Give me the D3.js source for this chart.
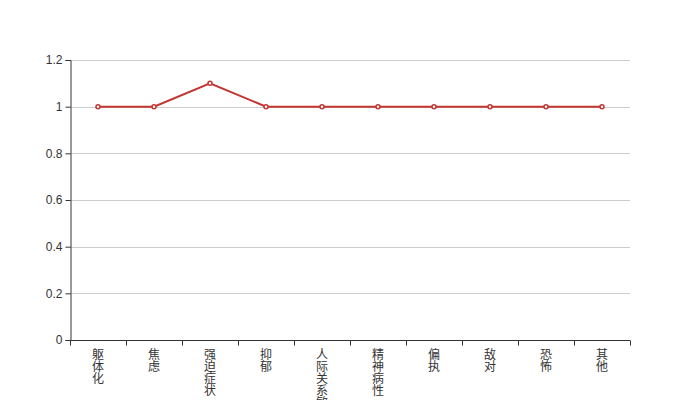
<!DOCTYPE html>
<html>
<head>
<meta charset="utf-8">
<script src="https://cdn.jsdelivr.net/npm/d3@7"></script>
<style>
  body { margin: 0; background: #fff; }
  svg { display: block; font-family: "Noto Sans CJK SC", "Noto Sans", sans-serif; }
</style>
</head>
<body>
<script>
// SCL-90 factor scores
var categories = ['躯体化', '焦虑', '强迫症状', '抑郁', '人际关系敏感', '精神病性', '偏执', '敌对', '恐怖', '其他'];
var scores     = [1, 1, 1.1, 1, 1, 1, 1, 1, 1, 1];
var yTicks     = [0, 0.2, 0.4, 0.6, 0.8, 1, 1.2];

var width = 700, height = 400;
var margin = {top: 60, right: 70, bottom: 60, left: 70};

var svg = d3.select('body').append('svg')
	.attr('width', width)
	.attr('height', height);

var x = d3.scaleBand()
	.domain(categories)
	.range([margin.left, width - margin.right]);

var y = d3.scaleLinear()
	.domain([0, 1.2])
	.range([height - margin.bottom, margin.top]);

// grid
svg.append('g')
	.selectAll('line')
	.data(yTicks.slice(1))
	.enter().append('line')
		.attr('x1', margin.left)
		.attr('x2', width - margin.right)
		.attr('y1', function(d) { return Math.round(y(d)) + 0.5; })
		.attr('y2', function(d) { return Math.round(y(d)) + 0.5; })
		.attr('stroke', '#ccc');

// y axis
var yAxis = svg.append('g')
	.attr('transform', 'translate(' + (margin.left + 0.5) + ',0)')
	.call(d3.axisLeft(y).tickValues(yTicks).tickSize(5).tickPadding(3).tickFormat(function(d) { return d; }));
yAxis.select('.domain').attr('stroke', '#333');
yAxis.selectAll('.tick line').attr('stroke', '#333');
yAxis.selectAll('.tick text').attr('fill', '#333').style('font-size', '12px');

// x axis
var xAxis = svg.append('g')
	.attr('transform', 'translate(0,' + (height - margin.bottom + 0.5) + ')');
xAxis.append('line')
	.attr('x1', margin.left)
	.attr('x2', width - margin.right)
	.attr('stroke', '#333');
var bounds = categories.map(function(c) { return x(c); }).concat([x.range()[1]]);
xAxis.selectAll('line.tk')
	.data(bounds)
	.enter().append('line')
		.attr('class', 'tk')
		.attr('x1', function(d) { return Math.round(d) + 0.5; })
		.attr('x2', function(d) { return Math.round(d) + 0.5; })
		.attr('y1', 0)
		.attr('y2', 5)
		.attr('stroke', '#333');

// vertical labels, one char per line
var lbl = xAxis.selectAll('text')
	.data(categories)
	.enter().append('text')
		.attr('fill', '#333')
		.style('font-size', '12px')
		.attr('text-anchor', 'middle');
lbl.each(function(d) {
	var t = d3.select(this);
	d.split('').forEach(function(ch, i) {
		t.append('tspan')
			.attr('x', x(d) + x.bandwidth() / 2)
			.attr('y', 18 + i * 12)
			.text(ch);
	});
});

// line
var line = d3.line()
	.x(function(d, i) { return x(categories[i]) + x.bandwidth() / 2; })
	.y(function(d) { return y(d); });

svg.append('path')
	.datum(scores)
	.attr('d', line)
	.attr('fill', 'none')
	.attr('stroke', '#c23531')
	.attr('stroke-width', 2);

svg.append('g')
	.selectAll('circle')
	.data(scores)
	.enter().append('circle')
		.attr('cx', function(d, i) { return x(categories[i]) + x.bandwidth() / 2; })
		.attr('cy', function(d) { return y(d); })
		.attr('r', 2)
		.attr('fill', '#fff')
		.attr('stroke', '#c23531')
		.attr('stroke-width', 1.5);
</script>
</body>
</html>
